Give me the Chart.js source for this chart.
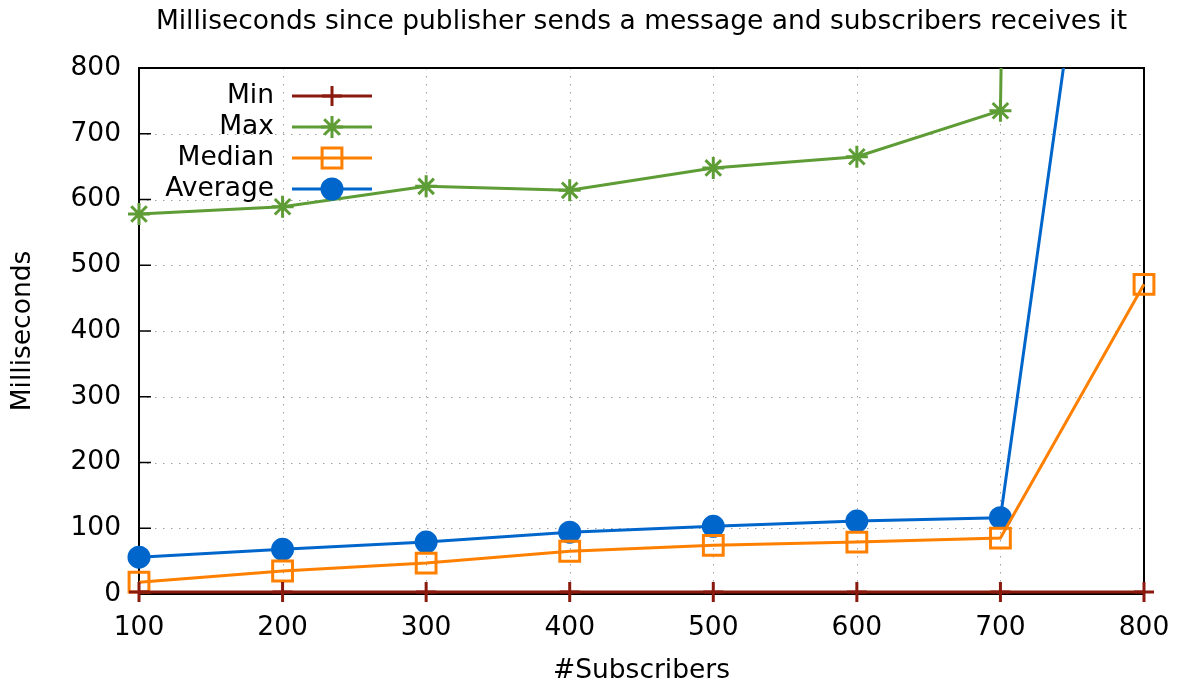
<!DOCTYPE html>
<html>
<head>
<meta charset="utf-8">
<title>Subscriber latency</title>
<script src="https://cdn.jsdelivr.net/npm/chart.js@4.4.1/dist/chart.umd.min.js"></script>
<style>
  html, body { margin: 0; padding: 0; background: #ffffff; }
  #wrap { width: 1181px; height: 687px; }
</style>
</head>
<body>
<div id="wrap"><canvas id="c" width="1181" height="687"></canvas></div>
<script>
// Latency measurements per number of subscribers (milliseconds)
const subscribers = [100, 200, 300, 400, 500, 600, 700, 800];
const minMs     = [3, 3, 3, 3, 3, 3, 3, 3];
const maxMs     = [578, 589, 620, 614, 648, 665, 735, 15000];
const medianMs  = [18, 35, 47, 65, 74, 79, 85, 471];
const averageMs = [56, 68, 79, 94, 103, 111, 116, 1675];

const xTicks = [100, 200, 300, 400, 500, 600, 700, 800];
const yTicks = [0, 100, 200, 300, 400, 500, 600, 700, 800];

const TITLE = 'Milliseconds since publisher sends a message and subscribers receives it';
const FONT = 'DejaVu Sans';
const FS = 26.5;

const toPoints = (vals) => subscribers.map((s, i) => ({ x: s, y: vals[i] }));

const seriesStyle = (label, vals, color, style, radius, fill) => ({
  label,
  data: toPoints(vals),
  borderColor: color,
  backgroundColor: fill ? color : 'rgba(0,0,0,0)',
  borderWidth: 3,
  pointStyle: style,
  pointRadius: radius,
  pointHoverRadius: radius,
  pointBorderColor: color,
  pointBackgroundColor: fill ? color : 'rgba(0,0,0,0)',
  pointBorderWidth: 3,
  tension: 0,
  clip: { left: 30, right: 30, top: 0, bottom: 30 }
});

const datasets = [
  seriesStyle('Min', minMs, '#8b1a0e', 'cross', 10, false),
  seriesStyle('Max', maxMs, '#5e9c36', 'star', 11, false),
  seriesStyle('Median', medianMs, '#ff8000', 'rect', 14, false),
  seriesStyle('Average', averageMs, '#0066cc', 'circle', 10, true)
];

// Title over the plot box, dotted grid, inward tick marks, boxed frame and key
const framePlugin = {
  id: 'frame',
  beforeDatasetsDraw(chart) {
    const { ctx, chartArea: a, scales: { x, y } } = chart;
    ctx.save();
    ctx.font = FS + 'px "' + FONT + '"';
    ctx.fillStyle = '#000000';
    ctx.textAlign = 'center';
    ctx.textBaseline = 'middle';
    ctx.fillText(TITLE, (a.left + a.right) / 2, 22);

    ctx.strokeStyle = '#a0a0a0';
    ctx.lineWidth = 1;
    ctx.setLineDash([1.5, 6.5]);
    yTicks.forEach(v => {
      const py = Math.round(y.getPixelForValue(v)) + 0.5;
      ctx.beginPath(); ctx.moveTo(a.left, py); ctx.lineTo(a.right, py); ctx.stroke();
    });
    xTicks.forEach(v => {
      const px = Math.round(x.getPixelForValue(v)) + 0.5;
      ctx.beginPath(); ctx.moveTo(px, a.top); ctx.lineTo(px, a.bottom); ctx.stroke();
    });
    ctx.setLineDash([]);
    ctx.strokeStyle = '#000000';
    ctx.lineWidth = 1.5;
    yTicks.forEach(v => {
      const py = y.getPixelForValue(v);
      ctx.beginPath(); ctx.moveTo(a.left, py); ctx.lineTo(a.left + 12, py); ctx.stroke();
    });
    xTicks.forEach(v => {
      const px = x.getPixelForValue(v);
      ctx.beginPath(); ctx.moveTo(px, a.bottom); ctx.lineTo(px, a.bottom - 12); ctx.stroke();
    });
    ctx.lineWidth = 2;
    ctx.strokeRect(a.left, a.top, a.right - a.left, a.bottom - a.top);
    ctx.restore();
  },
  afterDatasetsDraw(chart) {
    // Key: right-aligned labels followed by a line sample with its marker
    const { ctx } = chart;
    const textRight = 274, lineStart = 292, lineEnd = 372, markX = 332;
    const rows = [96, 127, 158, 189];
    ctx.save();
    ctx.font = FS + 'px "' + FONT + '"';
    ctx.textAlign = 'right';
    ctx.textBaseline = 'middle';
    chart.data.datasets.forEach((ds, i) => {
      const yy = rows[i];
      ctx.fillStyle = '#000000';
      ctx.fillText(ds.label, textRight, yy);
      ctx.strokeStyle = ds.borderColor;
      ctx.lineWidth = ds.borderWidth;
      ctx.beginPath(); ctx.moveTo(lineStart, yy); ctx.lineTo(lineEnd, yy); ctx.stroke();
      ctx.fillStyle = ds.pointBackgroundColor;
      ctx.strokeStyle = ds.pointBorderColor;
      ctx.lineWidth = ds.pointBorderWidth;
      Chart.helpers.drawPoint(ctx, {
        pointStyle: ds.pointStyle,
        radius: ds.pointRadius,
        rotation: 0,
        borderWidth: ds.pointBorderWidth
      }, markX, yy);
    });
    ctx.restore();
  }
};

new Chart(document.getElementById('c'), {
  type: 'line',
  data: { datasets },
  plugins: [framePlugin],
  options: {
    responsive: false,
    animation: false,
    devicePixelRatio: 1,
    layout: { padding: { left: 0, right: 37, top: 68, bottom: 0 } },
    plugins: {
      legend: { display: false },
      tooltip: { enabled: false },
      title: { display: false }
    },
    scales: {
      x: {
        type: 'linear',
        min: 100,
        max: 800,
        afterBuildTicks: (s) => { s.ticks = xTicks.map(v => ({ value: v })); },
        afterFit: (s) => { s.height = 93; s.paddingLeft = 0; s.paddingRight = 0; },
        grid: { display: false, drawTicks: false },
        border: { display: false },
        ticks: { color: '#000000', font: { family: FONT, size: FS }, padding: 18, maxRotation: 0 },
        title: {
          display: true,
          text: '#Subscribers',
          color: '#000000',
          font: { family: FONT, size: FS, lineHeight: 1.2 },
          padding: { top: 0, bottom: 0 }
        }
      },
      y: {
        type: 'linear',
        min: 0,
        max: 800,
        afterBuildTicks: (s) => { s.ticks = yTicks.map(v => ({ value: v })); },
        afterFit: (s) => { s.width = 139; s.paddingTop = 0; s.paddingBottom = 0; },
        grid: { display: false, drawTicks: false },
        border: { display: false },
        ticks: { color: '#000000', font: { family: FONT, size: FS }, padding: 18 },
        title: {
          display: true,
          text: 'Milliseconds',
          color: '#000000',
          font: { family: FONT, size: FS, lineHeight: 1.2 },
          padding: { top: 7, bottom: 0 }
        }
      }
    }
  }
});
</script>
</body>
</html>
